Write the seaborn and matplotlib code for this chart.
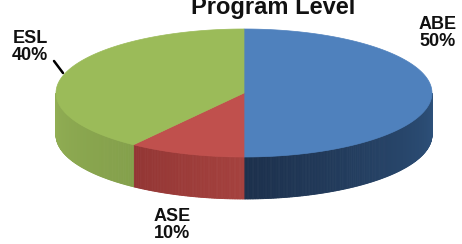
import numpy as np
import pandas as pd
import matplotlib
matplotlib.use('Agg')
import matplotlib.pyplot as plt
import seaborn as sns
from matplotlib.patches import Polygon
from matplotlib.colors import to_rgb

# ── Data ───────────────────────────────────────────────────────────────────
levels  = ['ABE', 'ASE', 'ESL']
shares  = [50, 10, 40]
title   = 'Program Level'

# ── Style ──────────────────────────────────────────────────────────────────
sns.set_style('white')
plt.rcParams['font.family'] = ['Liberation Sans', 'DejaVu Sans']

top_cols  = sns.color_palette(['#4F81BD', '#C0504D', '#9BBB59'])
side_from = ['#2E527C', '#A5413E', '#91AE54']   # near the centre
side_to   = ['#1C304C', '#933634', '#84A04B']   # toward the rim

CX, CY, A, B, DEPTH = 244, 93, 188, 64, 42

def pt(theta_deg, dy=0.0):
    t = np.radians(theta_deg)
    return CX + A * np.cos(t), CY - B * np.sin(t) + dy

df = pd.DataFrame({'level': levels, 'share': shares})
df['frac'] = df['share'] / df['share'].sum()
df['t_end'] = 90 - 360 * df['frac'].cumsum()
df['t_start'] = df['t_end'] + 360 * df['frac']

fig = plt.figure(figsize=(4.62, 2.44), dpi=100)
ax = fig.add_axes([0, 0, 1, 1])
ax.set_xlim(0, 462)
ax.set_ylim(244, 0)
ax.axis('off')

# side walls (only the front half, angles between -180 and 0)
for i, row in df.iterrows():
    hi = min(row.t_start, 0)
    lo = max(row.t_end, -180)
    if hi <= lo:
        continue
    n = max(int((hi - lo) * 2), 2)
    th = np.linspace(hi, lo, n + 1)
    c0, c1 = np.array(to_rgb(side_from[i])), np.array(to_rgb(side_to[i]))
    for k in range(n):
        u = k / max(n - 1, 1)
        if row.level == 'ESL':
            u = 1 - u
        col = c0 + (c1 - c0) * u
        p = [pt(th[k]), pt(th[k + 1]), pt(th[k + 1], DEPTH), pt(th[k], DEPTH)]
        ax.add_patch(Polygon(p, closed=True, facecolor=col, edgecolor=col,
                             linewidth=0.6))

# top faces
for i, row in df.iterrows():
    th = np.linspace(row.t_start, row.t_end, 200)
    p = [(CX, CY)] + [pt(t) for t in th]
    ax.add_patch(Polygon(p, closed=True, facecolor=top_cols[i],
                         edgecolor=top_cols[i], linewidth=0.5))

# labels
label_pos = {'ABE': (438, 33), 'ASE': (172, 225), 'ESL': (30, 47)}
for _, row in df.iterrows():
    x, y = label_pos[row.level]
    ax.text(x, y, f'{row.level}\n{row.share}%', ha='center', va='center',
            fontsize=13, fontweight='bold', linespacing=1.0, color='#111111')
ax.plot([54, 63], [61, 73], color='black', linewidth=1.8)

ax.text(273, 14, title, ha='center', va='baseline', fontsize=17,
        fontweight='bold', color='#111111')

fig.savefig('out.png', dpi=100)
